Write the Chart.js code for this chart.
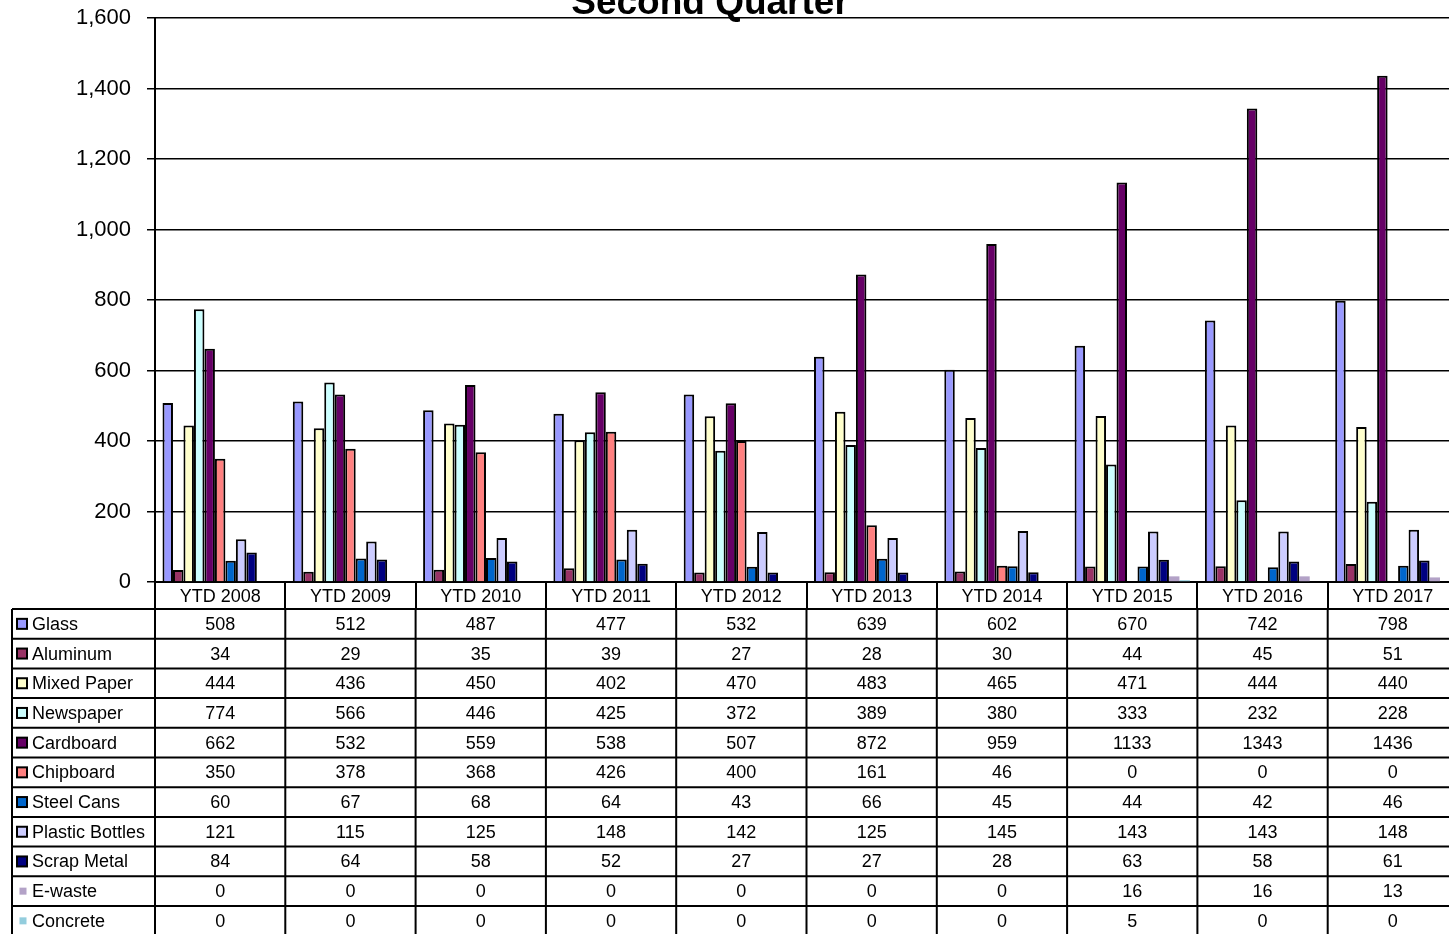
<!DOCTYPE html>
<html>
<head>
<meta charset="utf-8">
<script src="https://cdn.jsdelivr.net/npm/chart.js@4.4.1/dist/chart.umd.min.js"></script>
<style>
  html, body { margin: 0; padding: 0; background: #fff; overflow: hidden; }
  #wrap { width: 1460px; height: 940px; }
</style>
</head>
<body>
<div id="wrap"><canvas id="chart" width="1460" height="940"></canvas></div>
<script>
// categories
const years = ['YTD 2008', 'YTD 2009', 'YTD 2010', 'YTD 2011', 'YTD 2012',
               'YTD 2013', 'YTD 2014', 'YTD 2015', 'YTD 2016', 'YTD 2017'];

// series values
const glass          = [508, 512, 487, 477, 532, 639, 602, 670, 742, 798];
const aluminum       = [34, 29, 35, 39, 27, 28, 30, 44, 45, 51];
const mixedPaper     = [444, 436, 450, 402, 470, 483, 465, 471, 444, 440];
const newspaper      = [774, 566, 446, 425, 372, 389, 380, 333, 232, 228];
const cardboard      = [662, 532, 559, 538, 507, 872, 959, 1133, 1343, 1436];
const chipboard      = [350, 378, 368, 426, 400, 161, 46, 0, 0, 0];
const steelCans      = [60, 67, 68, 64, 43, 66, 45, 44, 42, 46];
const plasticBottles = [121, 115, 125, 148, 142, 125, 145, 143, 143, 148];
const scrapMetal     = [84, 64, 58, 52, 27, 27, 28, 63, 58, 61];
const eWaste         = [0, 0, 0, 0, 0, 0, 0, 16, 16, 13];
const concrete       = [0, 0, 0, 0, 0, 0, 0, 5, 0, 0];

// y axis ticks
const yMin = 0, yMax = 1600, yStep = 200;

const seriesNames  = ['Glass', 'Aluminum', 'Mixed Paper', 'Newspaper', 'Cardboard', 'Chipboard',
                      'Steel Cans', 'Plastic Bottles', 'Scrap Metal', 'E-waste', 'Concrete'];
const seriesValues = [glass, aluminum, mixedPaper, newspaper, cardboard, chipboard,
                      steelCans, plasticBottles, scrapMetal, eWaste, concrete];
const seriesColors = ['#9999FF', '#993366', '#FFFFCC', '#CCFFFF', '#660066', '#FF8080',
                      '#0066CC', '#CCCCFF', '#000080', '#B3A2C7', '#93CDDD'];
const outlined     = [true, true, true, true, true, true, true, true, true, false, false];

Chart.defaults.font.family = '"Liberation Sans", Arial, sans-serif';
Chart.defaults.color = '#000';

const FONT = '"Liberation Sans", Arial, sans-serif';

// title + data table under the x axis
const tablePlugin = {
  id: 'dataTable',
  afterDraw(chart) {
    const ctx = chart.ctx;
    const x = chart.scales.x;
    const ds = chart.data.datasets;
    const rowH = 29.7;
    const left = 12;
    const top = x.bottom;
    const bottom = top + rowH * ds.length;
    const step = x.width / years.length;

    ctx.save();
    // title
    ctx.fillStyle = '#000';
    ctx.font = 'bold 37px ' + FONT;
    ctx.textAlign = 'center';
    ctx.textBaseline = 'alphabetic';
    ctx.fillText('Second Quarter', 710, 14);

    // grid of the table
    ctx.strokeStyle = '#000';
    ctx.lineWidth = 2;
    ctx.beginPath();
    for (let r = 0; r <= ds.length; r++) {
      const y = top + r * rowH;
      ctx.moveTo(left, y);
      ctx.lineTo(x.right, y);
    }
    ctx.moveTo(left, top);
    ctx.lineTo(left, bottom);
    for (let c = 0; c <= years.length; c++) {
      const xx = x.getPixelForValue(0) - step / 2 + c * step;
      ctx.moveTo(xx, top);
      ctx.lineTo(xx, bottom);
    }
    ctx.stroke();

    ctx.font = '18px ' + FONT;
    ctx.textBaseline = 'middle';
    ds.forEach((d, r) => {
      const cy = top + r * rowH + rowH / 2 + 1;
      // legend key
      ctx.fillStyle = d.backgroundColor;
      if (outlined[r]) {
        ctx.fillRect(17, cy - 6, 10, 10);
        ctx.lineWidth = 2;
        ctx.strokeRect(17, cy - 6, 10, 10);
      } else {
        ctx.fillRect(19.5, cy - 4.5, 7, 7);
      }
      ctx.fillStyle = '#000';
      ctx.textAlign = 'left';
      ctx.fillText(d.label, 32, cy);
      ctx.textAlign = 'center';
      d.data.forEach((v, i) => {
        ctx.fillText(String(v), x.getPixelForValue(i), cy);
      });
    });
    ctx.restore();
  }
};

new Chart(document.getElementById('chart'), {
  type: 'bar',
  data: {
    labels: years,
    datasets: seriesNames.map((name, i) => ({
      label: name,
      data: seriesValues[i],
      backgroundColor: seriesColors[i],
      borderColor: '#000',
      borderWidth: outlined[i] ? 2 : 0,
      categoryPercentage: 0.885,
      barPercentage: 1.0
    }))
  },
  options: {
    responsive: false,
    animation: false,
    locale: 'en-US',
    layout: { padding: { top: 18, left: 0, right: 2, bottom: 331 } },
    plugins: {
      legend: { display: false },
      title: { display: false },
      tooltip: { enabled: false }
    },
    scales: {
      x: {
        grid: {
          display: true,
          drawOnChartArea: false,
          drawTicks: true,
          tickLength: 27,
          offset: true,
          color: '#000',
          lineWidth: 2
        },
        border: { display: true, color: '#000', width: 2 },
        ticks: { font: { size: 18 }, padding: -23, maxRotation: 0, autoSkip: false },
        afterFit(scale) { scale.height = 27; }
      },
      y: {
        min: yMin,
        max: yMax,
        ticks: { stepSize: yStep, font: { size: 22 }, padding: 16 },
        grid: { color: '#000', lineWidth: 1.5, tickLength: 8 },
        border: { display: true, color: '#000', width: 2 },
        afterFit(scale) {
          scale.width = 155;
          scale.paddingTop = 0;
          scale.paddingBottom = 0;
        }
      }
    }
  },
  plugins: [tablePlugin]
});
</script>
</body>
</html>
